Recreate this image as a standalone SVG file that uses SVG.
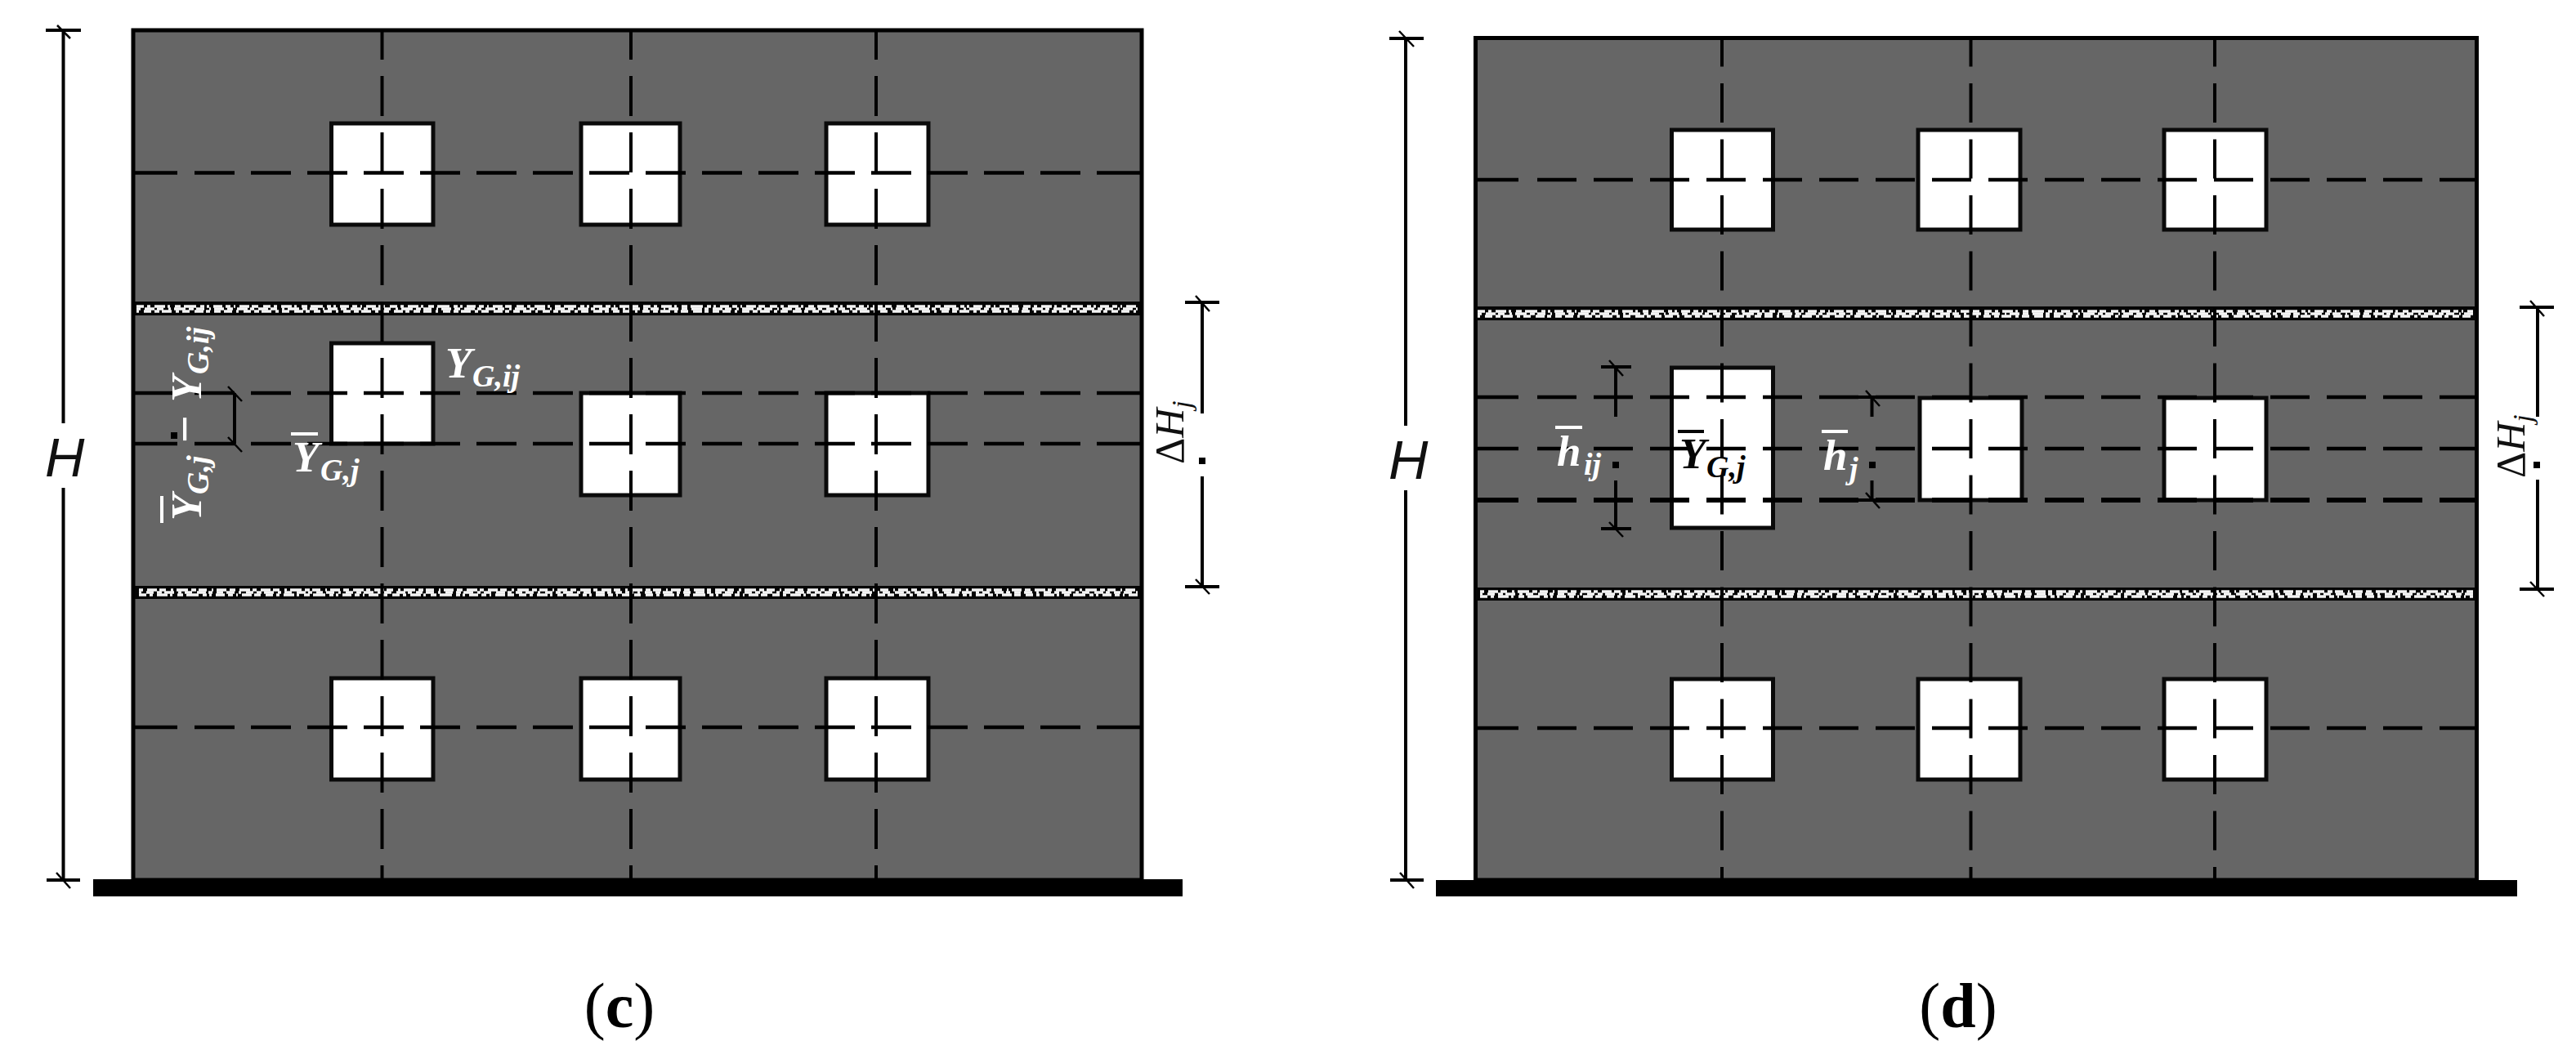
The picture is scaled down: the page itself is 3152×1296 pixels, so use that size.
<svg xmlns="http://www.w3.org/2000/svg" width="3152" height="1296" viewBox="0 0 3152 1296">
<defs><filter id="soft" x="-1%" y="-50%" width="102%" height="200%"><feGaussianBlur stdDeviation="0.7"/></filter></defs>
<style>
.wall{fill:#666;stroke:#000;stroke-width:5}
.win{fill:#fff;stroke:#0a0a0a;stroke-width:5}
.band{fill:#050505}
.n1,.n2,.n3{fill:none;stroke:#f4f4f4;stroke-width:3.4}
.n1{stroke-dasharray:9 4 4 5 13 3 3 6 7 4 15 5 5 3 3 5 11 4 6 4 2 5 12 3 8 6}
.n2{stroke-dasharray:5 5 12 3 8 6 3 4 14 4 6 3 10 6 2 4 12 4 7 5 13 3}
.n3{stroke-dasharray:3 6 9 4 6 3 12 5 4 4 9 6 11 3 5 5 8 4 10 5}
.h{fill:none;stroke:#000;stroke-width:4.5;stroke-dasharray:54 21 49 20 49 20 49 20 49 20 49 20 49 20 49 20 49 20 49 20 49 20 49 20 49 20 49 20 49 20 49 20 49 20}
.h2{fill:none;stroke:#000;stroke-width:4.5;stroke-dasharray:55 23 48 21 48 21 48 21 48 21 48 21 48 21 48 21 48 21 48 21 48 21 48 21 48 21 48 21 48 21 48 21 48 21}
.v{fill:none;stroke:#000;stroke-width:4;stroke-dasharray:49 20;stroke-dashoffset:14}
.v2{fill:none;stroke:#000;stroke-width:4;stroke-dasharray:48 20.5;stroke-dashoffset:10.5}
.dim{fill:none;stroke:#000;stroke-width:4}
.tick{fill:none;stroke:#000;stroke-width:2.5}
.base{fill:#000}
.ml{font-family:"Liberation Serif",serif;font-style:italic;font-weight:700;font-size:53px}
.sub{font-size:38px}
.w{fill:#fff}
.k{fill:#050505}
.barw{stroke:#fff;stroke-width:4}
.bark{stroke:#050505;stroke-width:4}
.hh{font-family:"Liberation Sans",sans-serif;font-style:italic;font-size:67px;fill:#111}
.dh{font-family:"Liberation Serif",serif;font-size:50px;fill:#111}
.cap{font-family:"Liberation Serif",serif;font-size:78px;fill:#000;text-anchor:middle}
</style>

<g id="panel-c">
  <rect class="wall" x="163" y="37" width="1234" height="1040"/>
  <g id="c-windows">
    <rect class="win" x="405.500" y="151" width="124.500" height="124"/>
    <rect class="win" x="711" y="151" width="121" height="124"/>
    <rect class="win" x="1011" y="151" width="125" height="124"/>
    <rect class="win" x="405.500" y="420" width="124.500" height="123"/>
    <rect class="win" x="711" y="481" width="121" height="125"/>
    <rect class="win" x="1011" y="481" width="125" height="125"/>
    <rect class="win" x="405.500" y="830" width="124.500" height="124"/>
    <rect class="win" x="711" y="830" width="121" height="124"/>
    <rect class="win" x="1011" y="830" width="125" height="124"/>
  </g>
  <g id="c-bands">
    <rect class="band" x="165" y="369" width="1230" height="17"/>
    <g filter="url(#soft)"><path class="n1" d="M167 375H1392"/><path class="n2" d="M167 378H1392"/><path class="n3" d="M167 381H1392"/></g>
    <rect class="band" x="165" y="717" width="1230" height="16"/>
    <g filter="url(#soft)"><path class="n2" d="M170 722H1392"/><path class="n3" d="M170 725H1392"/><path class="n1" d="M170 728H1392"/></g>
  </g>
  <g id="c-grid">
    <path class="h" d="M163 211.500H1396"/><path class="h" d="M163 481H1396"/><path class="h" d="M163 543H1396"/><path class="h" d="M163 890H1396"/>
    <path class="v" d="M467.500 38V1077"/><path class="v" d="M772 38V1077"/><path class="v" d="M1072 38V1077"/>
  </g>
  <rect class="base" x="114" y="1076" width="1333" height="21"/>
  <g id="c-dim-H">
    <path class="dim" d="M77.500 37V518M77.500 597V1077M56 37H99M57 1077H98"/>
    <path class="tick" d="M70 31L86 47M69 1068L86 1087"/>
    <text class="hh" x="55" y="583">H</text>
  </g>
  <g id="c-dim-DH">
    <path class="dim" d="M1471 370V506M1471 583V718M1450 370H1492M1450 718H1492"/>
    <path class="tick" d="M1463 362L1480 381M1463 709L1480 727"/>
    <rect x="1467" y="560" width="8" height="8" fill="#000"/>
    <text class="dh" transform="translate(1448,568) rotate(-90)">Δ<tspan font-style="italic">H</tspan><tspan font-style="italic" font-size="34" dy="9">j</tspan></text>
  </g>
  <g id="c-dim-Y">
    <path class="dim" d="M287 481V543"/>
    <path class="tick" d="M279 473L296 491M279 535L296 553"/>
    <rect x="209" y="529" width="8" height="8" fill="#000"/>
  </g>
  <g id="c-labels">
    <text class="ml w" x="545" y="462">Y<tspan class="sub" x="578" y="473">G,ij</tspan></text>
    <line class="barw" x1="356" y1="531" x2="389" y2="531"/>
    <text class="ml w" x="358" y="577">Y<tspan class="sub" x="392" y="588">G,j</tspan></text>
    <g transform="translate(246,637) rotate(-90)">
      <line class="barw" x1="-3" y1="-48" x2="30" y2="-48"/>
      <text class="ml w" x="0" y="0">Y<tspan class="sub" x="32" y="9">G,j</tspan><tspan x="93" y="0" font-size="60">−</tspan><tspan x="145" y="0">Y</tspan><tspan class="sub" x="179" y="9">G,ij</tspan></text>
    </g>
  </g>
  <text id="c-caption" class="cap" x="758" y="1257">(<tspan font-weight="700">c</tspan>)</text>
</g>

<g id="panel-d">
  <rect class="wall" x="1805.500" y="46.500" width="1225" height="1030.500"/>
  <g id="d-windows">
    <rect class="win" x="2045.500" y="159" width="124" height="122"/>
    <rect class="win" x="2347" y="159" width="125" height="122"/>
    <rect class="win" x="2648" y="159" width="125" height="122"/>
    <rect class="win" x="2045.500" y="450" width="124" height="196"/>
    <rect class="win" x="2349" y="487" width="125" height="125"/>
    <rect class="win" x="2648" y="487" width="125" height="125"/>
    <rect class="win" x="2045.500" y="831" width="124" height="123"/>
    <rect class="win" x="2347" y="831" width="125" height="123"/>
    <rect class="win" x="2648" y="831" width="125" height="123"/>
  </g>
  <g id="d-bands">
    <rect class="band" x="1806" y="375" width="1223" height="17"/>
    <g filter="url(#soft)"><path class="n1" d="M1808 381H3026"/><path class="n2" d="M1808 384H3026"/><path class="n3" d="M1808 387H3026"/></g>
    <rect class="band" x="1806" y="719" width="1223" height="16"/>
    <g filter="url(#soft)"><path class="n2" d="M1811 724H3026"/><path class="n3" d="M1811 727H3026"/><path class="n1" d="M1811 730H3026"/></g>
  </g>
  <g id="d-grid">
    <path class="h2" d="M1803 220H3031"/><path class="h2" d="M1803 486H3031"/><path class="h2" d="M1803 549H3031"/><path class="h2" style="stroke-width:6" d="M1803 612H3031"/><path class="h2" d="M1803 891H3031"/>
    <path class="dim" d="M2270 486H2295M2270 612H2295"/>
    <path class="v2" d="M2107 44V1077"/><path class="v2" d="M2411.500 44V1077"/><path class="v2" d="M2710 44V1077"/>
  </g>
  <rect class="base" x="1757" y="1077" width="1323" height="20"/>
  <g id="d-dim-H">
    <path class="dim" d="M1720 47V521M1720 600V1077M1700 47H1742M1701 1077H1742"/>
    <path class="tick" d="M1712 38L1730 57M1713 1068L1730 1087"/>
    <text class="hh" x="1699" y="586">H</text>
  </g>
  <g id="d-dim-DH">
    <path class="dim" d="M3105 376V510M3105 587V721M3083 376H3125M3083 721H3125"/>
    <path class="tick" d="M3096 368L3113 387M3096 712L3113 730"/>
    <rect x="3100" y="565" width="8" height="8" fill="#000"/>
    <text class="dh" transform="translate(3089,585) rotate(-90)">Δ<tspan font-style="italic">H</tspan><tspan font-style="italic" font-size="34" dy="9">j</tspan></text>
  </g>
  <g id="d-dim-h">
    <path class="dim" d="M1977 449V510M1977 588V647M1959 449H1996M1959 647H1996"/>
    <path class="tick" d="M1969 441L1986 460M1969 639L1986 657"/>
    <rect x="1973" y="565" width="8" height="8" fill="#000"/>
    <path class="dim" d="M2290.500 486V510M2290.500 588V612"/>
    <path class="tick" d="M2283 478L2300 497M2283 603L2300 622"/>
    <rect x="2287" y="565" width="8" height="8" fill="#000"/>
  </g>
  <g id="d-labels">
    <line class="barw" x1="1903" y1="523" x2="1936" y2="523"/>
    <text class="ml w" x="1905" y="570">h<tspan class="sub" x="1938" y="581">ij</tspan></text>
    <line class="bark" x1="2053" y1="528" x2="2085" y2="528"/>
    <text class="ml k" x="2055" y="573">Y<tspan class="sub" x="2088" y="584">G,j</tspan></text>
    <line class="barw" x1="2229" y1="528" x2="2261" y2="528"/>
    <text class="ml w" x="2231" y="575">h<tspan class="sub" x="2263" y="586">j</tspan></text>
  </g>
  <text id="d-caption" class="cap" x="2396" y="1257">(<tspan font-weight="700">d</tspan>)</text>
</g>
</svg>
